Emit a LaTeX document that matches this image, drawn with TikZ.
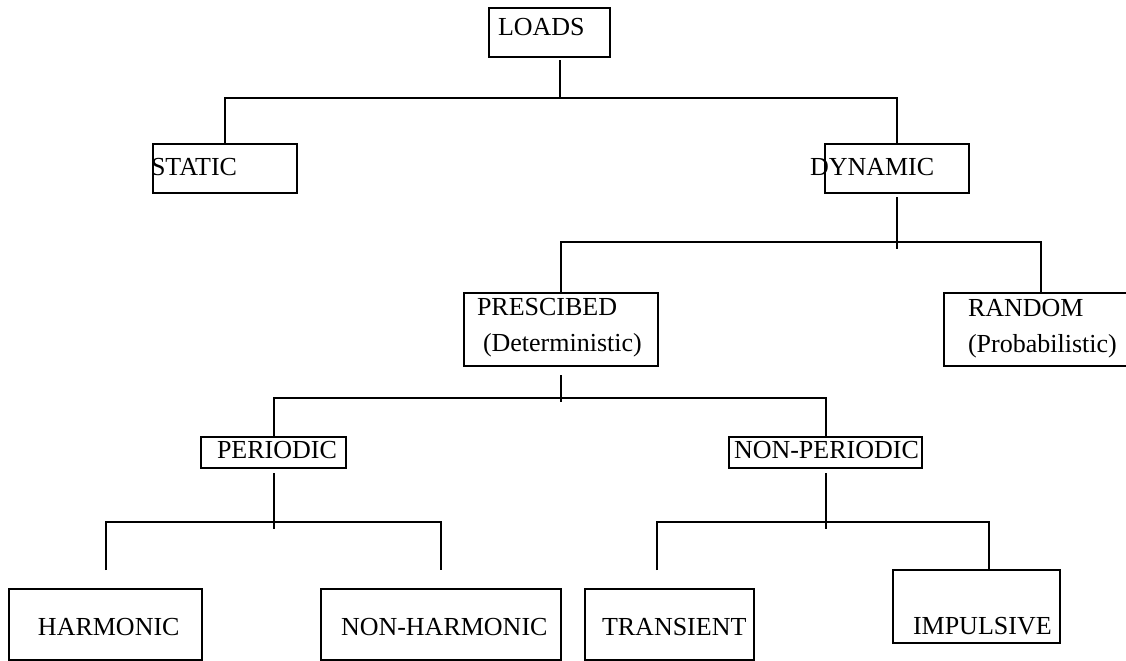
\documentclass[tikz,border=0pt]{standalone}
\usepackage{fontspec}
\setmainfont{Liberation Serif}
\tikzstyle{every node}=[font=\fontsize{13pt}{18pt}\selectfont]
\tikzstyle{every path}=[line width=1pt]
\tikzstyle{box}=[draw,anchor=north west,inner sep=0pt,align=left]

\begin{document}
\begin{tikzpicture}[x=0.5pt,y=-0.5pt]
    \useasboundingbox (0,0) rectangle (1126,660);

    % top level
    \node[box,text width=60.5pt,text height=13.5pt,text depth=11pt] (loads) at (488,7) {\hspace*{4.5pt}LOADS};
    \node[box,text width=72pt,text height=15.5pt,text depth=9pt] (static) at (152,143) {\hspace*{-1pt}STATIC};
    \node[box,text width=72pt,text height=15.5pt,text depth=9pt] (dynamic) at (824,143) {\hspace*{-7.5pt}DYNAMIC};

    % dynamic loads
    \node[box,text width=97pt,text height=11pt,text depth=25.5pt] (prescibed) at (463,292)
        {\hspace*{6.5pt}PRESCIBED\\\hspace*{9.5pt}(Deterministic)};
    \node[box,text width=97pt,text height=11.5pt,text depth=25pt] (random) at (943,292)
        {\hspace*{12pt}RANDOM\\\hspace*{12pt}(Probabilistic)};

    % prescribed loads
    \node[box,text width=72.5pt,text height=10.5pt,text depth=5pt] (periodic) at (200,436) {\hspace*{8pt}PERIODIC};
    \node[box,text width=96.5pt,text height=10.5pt,text depth=5pt] (nonperiodic) at (728,436) {\hspace*{2.5pt}NON-PERIODIC};

    % bottom row
    \node[box,text width=96.5pt,text height=23pt,text depth=12.5pt] (harmonic) at (8,588) {\hspace*{14.5pt}HARMONIC};
    \node[box,text width=120pt,text height=23pt,text depth=12.5pt] (nonharmonic) at (320,588) {\hspace*{10pt}NON-HARMONIC};
    \node[box,text width=84.5pt,text height=23pt,text depth=12.5pt] (transient) at (584,588) {\hspace*{8.5pt}TRANSIENT};
    \node[box,text width=83.5pt,text height=32pt,text depth=4.5pt] (impulsive) at (892,569) {\hspace*{10pt}IMPULSIVE};

    % bus levels
    \coordinate (b1) at (560,98);
    \coordinate (b2) at (896,242);
    \coordinate (b3) at (560,398);
    \coordinate (b4) at (272,522);
    \coordinate (b5) at (824,522);

    \draw
    % LOADS to STATIC / DYNAMIC
    (loads.south -| b1) ++(0,2) -- (b1)
    (static.north) |- (b1) -| (dynamic.north)
    % DYNAMIC to PRESCIBED / RANDOM
    (dynamic.south) ++(0,3) -- ++(0,52)
    (prescibed.north) |- (b2) -| (random.north)
    % PRESCIBED to PERIODIC / NON-PERIODIC
    (prescibed.south) ++(0,8) -- ++(0,27)
    (periodic.north) |- (b3) -| (nonperiodic.north)
    % PERIODIC to HARMONIC / NON-HARMONIC
    (periodic.south) ++(0,4) -- ++(0,56)
    ([yshift=9pt]harmonic.north) |- (b4) -| ([yshift=9pt]nonharmonic.north)
    % NON-PERIODIC to TRANSIENT / IMPULSIVE
    (nonperiodic.south) ++(0,4) -- ++(0,56)
    ([xshift=-6.25pt,yshift=9pt]transient.north) |- (b5) -| ([xshift=6.25pt]impulsive.north);
\end{tikzpicture}
\end{document}
